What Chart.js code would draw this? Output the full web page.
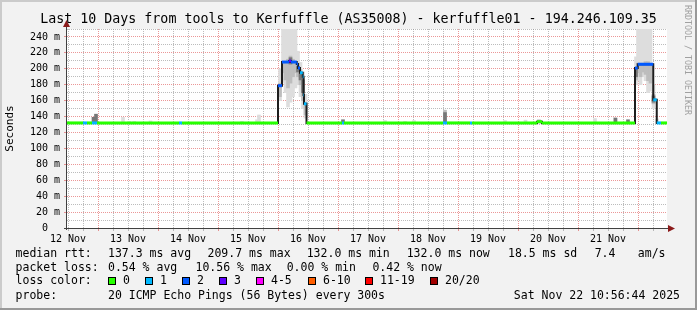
<!DOCTYPE html>
<html lang="en">
<head>
<meta charset="UTF-8">
<title>Last 10 Days from tools to Kerfuffle</title>
<script src="https://cdn.jsdelivr.net/npm/chart.js"></script>
<style>
    html, body { margin: 0; padding: 0; background: #f2f2f2; }
    #wrap { width: 697px; height: 310px; }
</style>
</head>
<body>
<div id="wrap"><canvas id="smoke" width="697" height="310"></canvas></div>
<script>
// time is in hours since 12 Nov 00:00
const xStart = 11.6;
const xEnd = 251.6;
const dayLabels = ['12 Nov', '13 Nov', '14 Nov', '15 Nov', '16 Nov', '17 Nov', '18 Nov', '19 Nov', '20 Nov', '21 Nov'];

// median rtt (ms), held from medTime[i] until medTime[i+1]; medLoss = lost pings of 20
const medTime  = [11.6, 18.0, 19.6, 21.6, 23.6, 56.4, 57.6, 96.0, 97.6, 100.4, 101.2, 103.5, 104.0, 104.8, 105.9, 106.2, 106.4, 107.4, 121.6, 122.4, 162.0, 163.6, 172.8, 173.6, 199.6, 201.6, 238.8, 239.9, 246.1, 247.5, 249.2, 251.6];
const medValue = [132, 132, 132, 132, 132, 132, 132, 178.8, 208.5, 209.7, 208.5, 206, 201, 195, 190, 167, 156, 132, 132, 132, 132, 132, 132, 132, 133.5, 132, 201, 205.7, 161, 132, 132, 132];
const medLoss  = [0, 1, 0, 1, 0, 1, 0, 2, 2, 3, 2, 2, 2, 1, 1, 1, 1, 0, 1, 0, 1, 0, 1, 0, 0, 0, 2, 2, 1, 1, 0, 0];

const lossLabels = ['0', '1', '2', '3', '4-5', '6-10', '11-19', '20/20'];
const lossColors = ['#26ff00', '#00b8ff', '#0059ff', '#5e00ff', '#ff00ff', '#ff5e00', '#ff0000', '#a10000'];

// smoke: [hour, low ms, high ms]
const smokeLight = [
    [34, 132, 139], [36.5, 132, 134], [38.5, 132, 134], [45, 132, 134.5], [81.6, 132, 134], [87.6, 132, 136], [88.4, 132, 142],
    [96.8, 160, 200], [98, 183, 250], [99, 170, 250], [100, 152, 250], [101, 158, 250], [102, 165, 250], [103, 176, 250],
    [104, 180, 222], [105, 165, 208], [106, 150, 196], [107, 138, 168],
    [138.8, 132, 135], [146.8, 132, 134], [150.4, 132, 135], [186.8, 132, 135], [195, 132, 135.5], [201, 132, 134.5],
    [222.8, 132, 137.5], [230.8, 132, 139],
    [239.2, 180, 215], [240, 185, 250], [241, 180, 250], [242, 190, 250], [243, 185, 250], [244, 170, 250], [245, 172, 250],
    [246.2, 150, 180], [247.6, 132, 137]
];
const smokeMid = [
    [96.8, 165, 182], [98, 195, 208], [99, 186, 209], [100, 176, 212], [101, 182, 216], [102, 190, 212], [103, 195, 208],
    [104, 190, 207], [105, 180, 199], [106, 160, 190], [107, 142, 158],
    [162.8, 132, 148], [200.4, 132, 136],
    [239.2, 186, 202], [240, 195, 207], [241, 190, 207], [242, 196, 207], [243, 193, 209], [244, 185, 209], [245, 182, 207],
    [246.2, 156, 168]
];
const smokeDark = [
    [22.2, 132, 139], [23.2, 132, 143], [101, 206, 214], [104, 196, 203], [105, 186, 195], [106, 170, 186],
    [122, 132, 136], [162.8, 132, 145], [231, 132, 138], [236, 132, 136], [239.2, 190, 200], [246.2, 158, 166]
];

const rttStats = ['137.3 ms avg', '209.7 ms max', '132.0 ms min', '132.0 ms now', '18.5 ms sd', '7.4', 'am/s'];
const lossStats = ['0.54 % avg', '10.56 % max', '0.00 % min', '0.42 % now'];

const titleText = 'Last 10 Days from tools to Kerfuffle (AS35008) - kerfuffle01 - 194.246.109.35';
const probeText = '20 ICMP Echo Pings (56 Bytes) every 300s';
const stampText = 'Sat Nov 22 10:56:44 2025';

const GRID = 'rgba(143,143,143,0.6)';
const MGRID = 'rgba(222,81,81,0.6)';
const MONO = '"DejaVu Sans Mono", monospace';

function lossIndex(n) {
    if (n <= 3) return n;
    if (n <= 5) return 4;
    if (n <= 10) return 5;
    if (n <= 19) return 6;
    return 7;
}

// x grid every 6 hours, labels at noon
const xTicks = [];
for (let h = 12; h <= xEnd; h += 6) xTicks.push(h);

const medPieces = [];
for (let i = 0; i < medTime.length - 1; i++) {
    medPieces.push({x: medTime[i], y: medValue[i]}, {x: medTime[i + 1], y: medValue[i]}, {x: medTime[i + 1], y: null});
}

function smokeSet(rows, color, order) {
    return {
        type: 'bar',
        data: rows.map(r => ({x: r[0], y: [r[1], r[2]]})),
        backgroundColor: color,
        borderWidth: 0,
        barThickness: 3,
        grouped: false,
        order: order
    };
}

const rrdFrame = {
    id: 'rrdFrame',
    beforeDraw(chart) {
        const c = chart.ctx, a = chart.chartArea;
        c.save();
        c.fillStyle = '#f2f2f2';
        c.fillRect(0, 0, 697, 310);
        c.fillStyle = '#cbcbcb';
        c.fillRect(0, 0, 697, 2);
        c.fillRect(0, 0, 2, 310);
        c.fillStyle = '#999999';
        c.fillRect(0, 308, 697, 2);
        c.fillRect(695, 0, 2, 310);
        c.fillStyle = '#ffffff';
        c.fillRect(a.left, a.top, a.right - a.left, a.bottom - a.top);
        c.restore();
    },
    afterDatasetsDraw(chart) {
        const c = chart.ctx, a = chart.chartArea;
        c.save();
        c.strokeStyle = '#404040';
        c.lineWidth = 1;
        c.beginPath();
        c.moveTo(a.left - 0.5, a.bottom + 2);
        c.lineTo(a.left - 0.5, a.top - 2);
        c.moveTo(a.left - 3, a.bottom + 0.5);
        c.lineTo(a.right + 2, a.bottom + 0.5);
        c.stroke();
        c.fillStyle = '#8b1a1a';
        c.beginPath();
        c.moveTo(a.left - 4, a.top - 2);
        c.lineTo(a.left + 3, a.top - 2);
        c.lineTo(a.left - 0.5, a.top - 9);
        c.closePath();
        c.fill();
        c.beginPath();
        c.moveTo(a.right + 1, a.bottom - 3);
        c.lineTo(a.right + 1, a.bottom + 4);
        c.lineTo(a.right + 8, a.bottom + 0.5);
        c.closePath();
        c.fill();
        c.restore();
    },
    afterDraw(chart) {
        const c = chart.ctx;
        c.save();
        c.fillStyle = '#000';
        c.textBaseline = 'middle';
        c.textAlign = 'center';
        c.font = '13.3px ' + MONO;
        c.fillText(titleText, 348.5, 20);

        c.font = '11.5px ' + MONO;
        c.textAlign = 'left';
        const rowY = [254, 268, 281, 296];
        c.fillText('median rtt:', 15.6, rowY[0]);
        const rttX = [108, 207.5, 306.7, 406.7, 508, 594.7, 637.8];
        rttStats.forEach((s, i) => c.fillText(s, rttX[i], rowY[0]));

        c.fillText('packet loss:', 15.6, rowY[1]);
        const lossX = [108, 195.5, 286.7, 372.4];
        lossStats.forEach((s, i) => c.fillText(s, lossX[i], rowY[1]));

        c.fillText('loss color:', 15.6, rowY[2]);
        const swX = [108, 145, 182, 219, 256, 307.5, 365, 430];
        lossLabels.forEach((lab, i) => {
            const bx = Math.round(swX[i]);
            c.fillStyle = lossColors[i];
            c.fillRect(bx, rowY[2] - 4, 8, 8);
            c.strokeStyle = '#000';
            c.lineWidth = 1;
            c.strokeRect(bx + 0.5, rowY[2] - 3.5, 7, 7);
            c.fillStyle = '#000';
            c.fillText(lab, bx + 15, rowY[2]);
        });

        c.fillText('probe:', 15.6, rowY[3]);
        c.fillText(probeText, 108, rowY[3]);
        c.textAlign = 'right';
        c.fillText(stampText, 680, rowY[3]);

        c.translate(687, 5);
        c.rotate(Math.PI / 2);
        c.textAlign = 'left';
        c.font = '8.3px ' + MONO;
        c.fillStyle = '#a0a0a0';
        c.fillText('RRDTOOL / TOBI OETIKER', 0, 0);
        c.restore();
    }
};

Chart.defaults.font.family = MONO;

new Chart(document.getElementById('smoke'), {
    type: 'line',
    data: {
        datasets: [
            smokeSet(smokeLight, '#dddddd', 5),
            smokeSet(smokeMid, '#bdbdbd', 4),
            smokeSet(smokeDark, '#777777', 3),
            {
                data: medTime.map((t, i) => ({x: t, y: medValue[i]})),
                stepped: 'before',
                borderColor: '#1e1e1e',
                borderWidth: 2,
                pointRadius: 0,
                order: 2
            },
            {
                data: medPieces,
                borderWidth: 3,
                borderCapStyle: 'butt',
                pointRadius: 0,
                spanGaps: false,
                segment: {
                    borderColor: ctx => lossColors[lossIndex(medLoss[Math.floor(ctx.p0DataIndex / 3)])]
                },
                borderColor: lossColors[0],
                order: 1
            }
        ]
    },
    options: {
        responsive: false,
        devicePixelRatio: 1,
        animation: false,
        events: [],
        layout: { padding: { left: 0, right: 30, top: 29, bottom: 0 } },
        plugins: { legend: { display: false }, tooltip: { enabled: false } },
        scales: {
            x: {
                type: 'linear',
                min: xStart,
                max: xEnd,
                offset: false,
                afterBuildTicks: s => { s.ticks = xTicks.map(v => ({value: v})); },
                afterFit: s => { s.height = 82; },
                ticks: {
                    autoSkip: false,
                    maxRotation: 0,
                    minRotation: 0,
                    padding: 2,
                    color: '#000',
                    font: { size: 10 },
                    callback: v => (v % 24 === 12 ? dayLabels[(v - 12) / 24] : '')
                },
                grid: {
                    offset: false,
                    lineWidth: 1,
                    tickLength: 3,
                    color: ctx => (ctx.tick && ctx.tick.value % 24 === 0 ? MGRID : GRID),
                    tickColor: ctx => (ctx.tick && ctx.tick.value % 24 === 0 ? MGRID : GRID),
                    tickBorderDash: []
                },
                border: { display: false, dash: [1, 1] }
            },
            y: {
                min: 0,
                max: 250,
                afterFit: s => { s.width = 67; },
                ticks: {
                    stepSize: 10,
                    autoSkip: false,
                    padding: 4,
                    color: '#000',
                    font: { size: 10 },
                    callback: v => (v % 20 === 0 && v <= 240 ? (v === 0 ? '0  ' : v + ' m') : '')
                },
                grid: {
                    lineWidth: 1,
                    tickLength: 3,
                    color: ctx => (ctx.tick && ctx.tick.value % 20 === 0 ? MGRID : GRID),
                    tickColor: ctx => (ctx.tick && ctx.tick.value % 20 === 0 && ctx.tick.value <= 240 ? MGRID : 'rgba(0,0,0,0)'),
                    tickBorderDash: []
                },
                border: { display: false, dash: [1, 1] },
                title: {
                    display: true,
                    text: 'Seconds',
                    color: '#000',
                    font: { size: 11 },
                    padding: { top: 4, bottom: 0 }
                }
            }
        }
    },
    plugins: [rrdFrame]
});
</script>
</body>
</html>
